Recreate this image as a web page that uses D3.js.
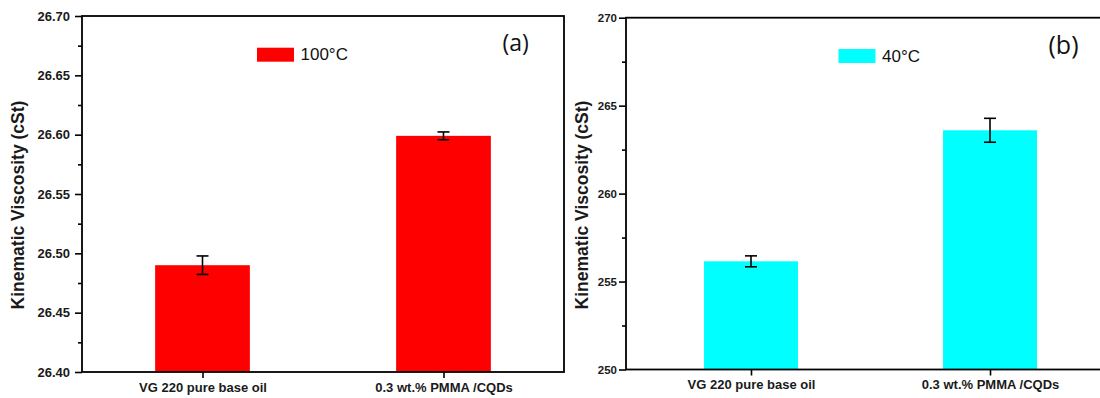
<!DOCTYPE html>
<html>
<head>
<meta charset="utf-8">
<script src="https://cdn.jsdelivr.net/npm/d3@7/dist/d3.min.js"></script>
<style>
  html, body { margin: 0; padding: 0; background: #fff; }
  svg { display: block; }
</style>
</head>
<body>
<svg id="chart" width="1100" height="398"></svg>
<script>
// ---- data ----
const categories = ["VG 220 pure base oil", "0.3 wt.% PMMA /CQDs"];
const visc100 = [26.490, 26.599];
const err100  = [0.0078, 0.0033];
const visc40  = [256.15, 263.60];
const err40   = [0.31, 0.68];
const ticks100 = [26.40, 26.45, 26.50, 26.55, 26.60, 26.65, 26.70];
const minor100 = [26.425, 26.475, 26.525, 26.575, 26.625, 26.675];
const ticks40 = [250, 255, 260, 265, 270];
const minor40 = [252.5, 257.5, 262.5, 267.5];
const legend100 = "100°C";
const legend40 = "40°C";
const yTitle = "Kinematic Viscosity (cSt)";

const svg = d3.select("#chart");
const SANS = "'Liberation Sans', Arial, sans-serif";

function panel(cfg) {
  const g = svg.append("g");
  const x = d3.scaleLinear().domain(cfg.xDomain).range([cfg.left, cfg.right]);
  const y = d3.scaleLinear().domain(cfg.yDomain).range([cfg.bottom, cfg.top]);

  // bars
  g.selectAll("rect.bar").data(cfg.values).join("rect")
    .attr("class", "bar")
    .attr("x", (d, i) => x(i + 1 - cfg.barW / 2))
    .attr("width", (d, i) => x(i + 1 + cfg.barW / 2) - x(i + 1 - cfg.barW / 2))
    .attr("y", d => y(d))
    .attr("height", d => y(cfg.yDomain[0]) - y(d))
    .attr("fill", cfg.color);

  // error bars
  const eb = g.selectAll("g.err").data(cfg.values).join("g").attr("class", "err");
  eb.append("line")
    .attr("x1", (d, i) => x(i + 1)).attr("x2", (d, i) => x(i + 1))
    .attr("y1", (d, i) => y(d + cfg.errs[i])).attr("y2", (d, i) => y(d - cfg.errs[i]))
    .attr("stroke", "#000").attr("stroke-width", 1.6);
  [1, -1].forEach(s => {
    eb.append("line")
      .attr("x1", (d, i) => x(i + 1) - 6).attr("x2", (d, i) => x(i + 1) + 6)
      .attr("y1", (d, i) => y(d + s * cfg.errs[i])).attr("y2", (d, i) => y(d + s * cfg.errs[i]))
      .attr("stroke", "#000").attr("stroke-width", 1.6);
  });

  // y axis major
  const ya = g.append("g").attr("transform", `translate(${cfg.left},0)`)
    .call(d3.axisLeft(y).tickValues(cfg.ticks).tickFormat(cfg.fmt).tickSize(7).tickPadding(cfg.yPad));
  ya.select(".domain").remove();
  ya.selectAll("line").attr("stroke", "#000").attr("stroke-width", 1.6);
  ya.selectAll("text").attr("font-family", SANS).attr("font-weight", "bold")
    .attr("font-size", cfg.yFont).attr("fill", "#1a1a1a");
  // y axis minor
  const ym = g.append("g").attr("transform", `translate(${cfg.left},0)`)
    .call(d3.axisLeft(y).tickValues(cfg.minor).tickFormat("").tickSize(4));
  ym.select(".domain").remove();
  ym.selectAll("line").attr("stroke", "#000").attr("stroke-width", 1.6);

  // x axis
  const xa = g.append("g").attr("transform", `translate(0,${cfg.bottom})`)
    .call(d3.axisBottom(x).tickValues([1, 2]).tickFormat((d) => categories[d - 1]).tickSize(6).tickPadding(4));
  xa.select(".domain").remove();
  xa.selectAll("line").attr("stroke", "#000").attr("stroke-width", 1.6);
  xa.selectAll("text").attr("font-family", SANS).attr("font-weight", "bold")
    .attr("font-size", 13).attr("fill", "#1a1a1a").attr("dy", null).attr("y", 19.5);

  // frame
  g.append("rect")
    .attr("x", cfg.left).attr("y", cfg.top)
    .attr("width", cfg.right - cfg.left).attr("height", cfg.bottom - cfg.top)
    .attr("fill", "none").attr("stroke", "#000").attr("stroke-width", 1.8);

  // y title
  g.append("text")
    .attr("transform", `translate(${cfg.titleX},${cfg.titleY}) rotate(-90)`)
    .attr("text-anchor", "middle")
    .attr("font-family", SANS).attr("font-weight", "bold").attr("font-size", 17.5)
    .attr("fill", "#1a1a1a")
    .text(yTitle);

  // legend
  g.append("rect")
    .attr("x", cfg.legX).attr("y", cfg.legY).attr("width", 37).attr("height", 14)
    .attr("fill", cfg.color);
  g.append("text")
    .attr("x", cfg.legX + 43.5).attr("y", cfg.legY + 12.5)
    .attr("font-family", SANS).attr("font-size", 17).attr("fill", "#111")
    .text(cfg.legend);

  // panel letter
  g.append("text")
    .attr("x", cfg.letterX).attr("y", cfg.letterY)
    .attr("font-family", "'Open Sans', sans-serif").attr("font-size", cfg.letterSize).attr("fill", "#111")
    .text(cfg.letter);
}

panel({
  left: 82, right: 564, top: 16, bottom: 372,
  xDomain: [0.5, 2.5], yDomain: [26.40, 26.70], barW: 0.393,
  values: visc100, errs: err100, color: "#ff0000",
  ticks: ticks100, minor: minor100, fmt: d3.format(".2f"), yFont: 13, yPad: 5,
  titleX: 24, titleY: 205,
  legX: 257, legY: 47.7, legend: legend100,
  letter: "(a)", letterX: 502.5, letterY: 51, letterSize: 23
});

panel({
  left: 626, right: 1110, top: 17.7, bottom: 369.5,
  xDomain: [0.477, 2.502], yDomain: [250, 270], barW: 0.393,
  values: visc40, errs: err40, color: "#00ffff",
  ticks: ticks40, minor: minor40, fmt: d3.format("d"), yFont: 11.5, yPad: 2,
  titleX: 588, titleY: 205,
  legX: 838.5, legY: 49, legend: legend40,
  letter: "(b)", letterX: 1048.5, letterY: 54, letterSize: 25
});
</script>
</body>
</html>
